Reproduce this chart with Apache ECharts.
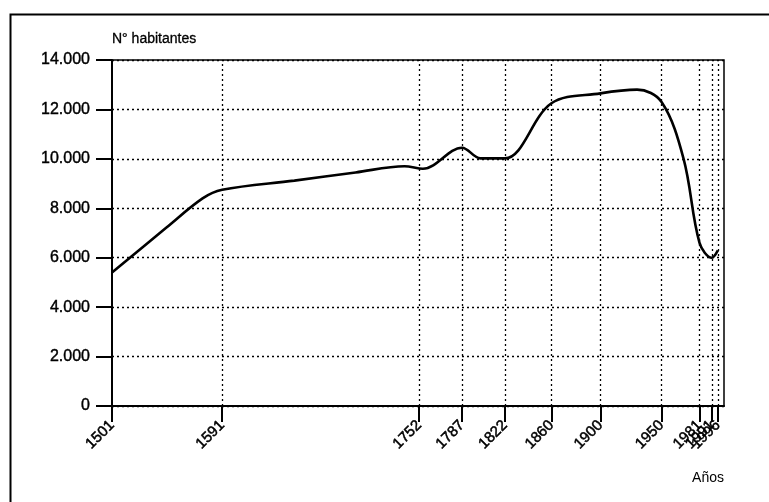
<!DOCTYPE html>
<html>
<head>
<meta charset="utf-8">
<script src="https://cdn.jsdelivr.net/npm/echarts@6/dist/echarts.min.js"></script>
<style>html,body{margin:0;padding:0;background:#fff;}#c{width:769px;height:502px;}</style>
</head>
<body>
<div id="c"></div>
<script>
// Tick years shown on the x axis
const tickYears = [1501, 1591, 1752, 1787, 1822, 1860, 1900, 1950, 1981, 1991, 1996];
// Curve points
const years      = [1501, 1545, 1575, 1591, 1650, 1700, 1740, 1755, 1787, 1802, 1822, 1860, 1900, 1930, 1950, 1968, 1981, 1991, 1996];
const habitantes = [5400, 7200, 8400, 8750, 9120, 9450, 9700, 9600, 10450, 10020, 10020, 12250, 12650, 12800, 12300, 10000, 6600, 6000, 6300];
const yAxisName = 'N° habitantes';
const xAxisName = 'Años';

const font = 'Liberation Sans, Arial, Helvetica, sans-serif';
const chart = echarts.init(document.getElementById('c'), null, {renderer: 'canvas'});
const seriesData = years.map((y, i) => [y, habitantes[i]]);
const dotted = {color: '#000', width: 1.3, type: [2, 3]};

// The three last years sit very close together; each gets its own label layer
// so that the library's overlap check does not drop any of them.
const labelGroups = [tickYears.slice(0, tickYears.length - 2), [tickYears[tickYears.length - 2]], [tickYears[tickYears.length - 1]]];

function xAxisFor(labels, idx) {
  return {
    type: 'value', min: 1501, max: 2001, position: 'bottom', gridIndex: 0,
    name: idx === 0 ? xAxisName : '', nameLocation: 'end', nameGap: 0,
    nameTextStyle: {fontFamily: font, fontSize: 14, color: '#000', align: 'right', verticalAlign: 'top', padding: [65, 0, 0, 0]},
    axisLine: {show: idx === 0, onZero: false, lineStyle: {color: '#000', width: 2}},
    axisTick: {show: idx === 0, length: 16, customValues: tickYears, lineStyle: {color: '#000', width: 2}},
    axisLabel: {customValues: labels, rotate: 45, margin: 17, fontFamily: font, fontSize: 15, color: '#000',
      showMinLabel: true, showMaxLabel: true, hideOverlap: false,
      textBorderColor: '#000', textBorderWidth: 0.5,
      formatter: v => String(v)},
    splitLine: {show: false}
  };
}

chart.setOption({
  animation: false,
  backgroundColor: '#fff',
  graphic: [{
    type: 'rect', left: 8, top: 12, silent: true,
    shape: {width: 820, height: 600},
    style: {fill: 'none', stroke: '#000', lineWidth: 2}
  }],
  grid: {left: 112, top: 60, right: 45, bottom: 96, show: true, borderColor: '#000', borderWidth: 1.5, backgroundColor: 'transparent'},
  xAxis: labelGroups.map((g, i) => xAxisFor(g, i)),
  yAxis: {
    type: 'value', min: 0, max: 14000, interval: 2000,
    name: yAxisName, nameLocation: 'end', nameGap: 14,
    nameTextStyle: {fontFamily: font, fontSize: 14, color: '#000', align: 'left', textBorderColor: '#000', textBorderWidth: 0.3},
    axisLine: {show: true, lineStyle: {color: '#000', width: 2}},
    axisTick: {show: true, length: 16, lineStyle: {color: '#000', width: 2}},
    axisLabel: {margin: 22, fontFamily: font, fontSize: 16, color: '#000', textBorderColor: '#000', textBorderWidth: 0.4,
      formatter: v => String(v).replace(/\B(?=(\d{3})+(?!\d))/g, '.')},
    splitLine: {show: true, lineStyle: dotted}
  },
  series: [{
    type: 'line',
    xAxisIndex: 0,
    data: seriesData,
    smooth: 0.35,
    showSymbol: false,
    lineStyle: {color: '#000', width: 2.6},
    z: 5,
    markLine: {
      silent: true, symbol: 'none', label: {show: false},
      lineStyle: dotted,
      data: tickYears.slice(1).map(y => ({xAxis: y}))
    }
  }]
});
</script>
</body>
</html>
